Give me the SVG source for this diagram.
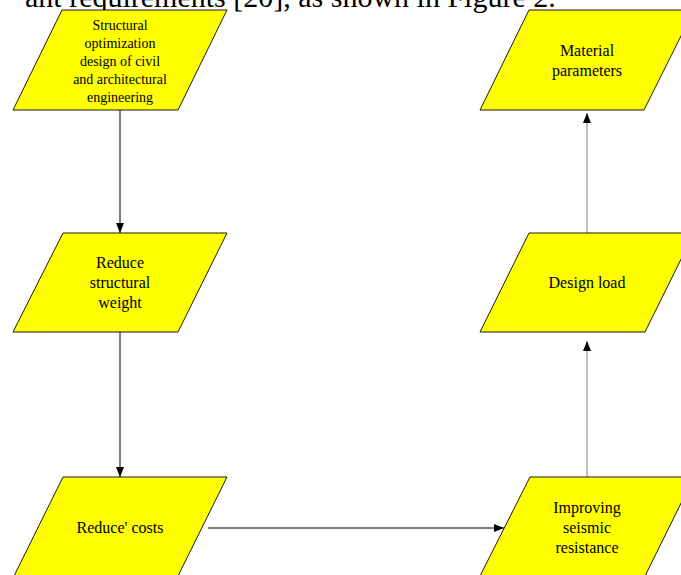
<svg xmlns="http://www.w3.org/2000/svg" width="681" height="575" viewBox="0 0 681 575">
<style>
.n{fill:#ffff00;stroke:#1a1a1a;stroke-width:1}
.t{font-family:"Liberation Serif","Times New Roman",serif;fill:#000;text-anchor:middle}
.c{fill:none;stroke:#000;stroke-width:1}
.g{stroke:#808080}
</style>
<defs>
<marker id="ah" markerWidth="10" markerHeight="8" refX="10" refY="4" orient="auto" markerUnits="userSpaceOnUse">
<path d="M0,0 L10,4 L0,8 Z" fill="#000"/>
</marker>
</defs>
<rect width="681" height="575" fill="#fff"/>
<text x="25" y="7" font-family="'Liberation Serif','Times New Roman',serif" font-size="30" fill="#000">ant requirements [20], as shown in Figure 2.</text>
<g id="connectors">
<path class="c" d="M120,110 V233" marker-end="url(#ah)"/>
<path class="c" d="M120,332 V477" marker-end="url(#ah)"/>
<path class="c" d="M208,528 H504" marker-end="url(#ah)"/>
<path class="c g" d="M587,477 V341" marker-end="url(#ah)"/>
<path class="c g" d="M587,233 V113" marker-end="url(#ah)"/>
</g>
<g id="n1">
<polygon class="n" points="62,10 227,10 178,110 13,110"/>
<text class="t" font-size="14"><tspan x="120" y="29.5">Structural</tspan><tspan x="120" y="47.5">optimization</tspan><tspan x="120" y="65.5">design of civil</tspan><tspan x="120" y="83.5">and architectural</tspan><tspan x="120" y="101.5">engineering</tspan></text>
</g>
<g id="n2">
<polygon class="n" points="63,233 227,233 178,332 13,332"/>
<text class="t" font-size="16"><tspan x="120" y="268">Reduce</tspan><tspan x="120" y="288">structural</tspan><tspan x="120" y="308">weight</tspan></text>
</g>
<g id="n3">
<polygon class="n" points="63,477 227,477 178,576 14,576"/>
<text class="t" font-size="16" x="120" y="533">Reduce' costs</text>
</g>
<g id="n4">
<polygon class="n" points="529,10 694,10 644,110 480,110"/>
<text class="t" font-size="16"><tspan x="587" y="56">Material</tspan><tspan x="587" y="76">parameters</tspan></text>
</g>
<g id="n5">
<polygon class="n" points="529,233 694,233 645,332 480,332"/>
<text class="t" font-size="16" x="587" y="288">Design load</text>
</g>
<g id="n6">
<polygon class="n" points="530,477 694,477 645,576 480,576"/>
<text class="t" font-size="16"><tspan x="587" y="513">Improving</tspan><tspan x="587" y="533">seismic</tspan><tspan x="587" y="553">resistance</tspan></text>
</g>
</svg>
